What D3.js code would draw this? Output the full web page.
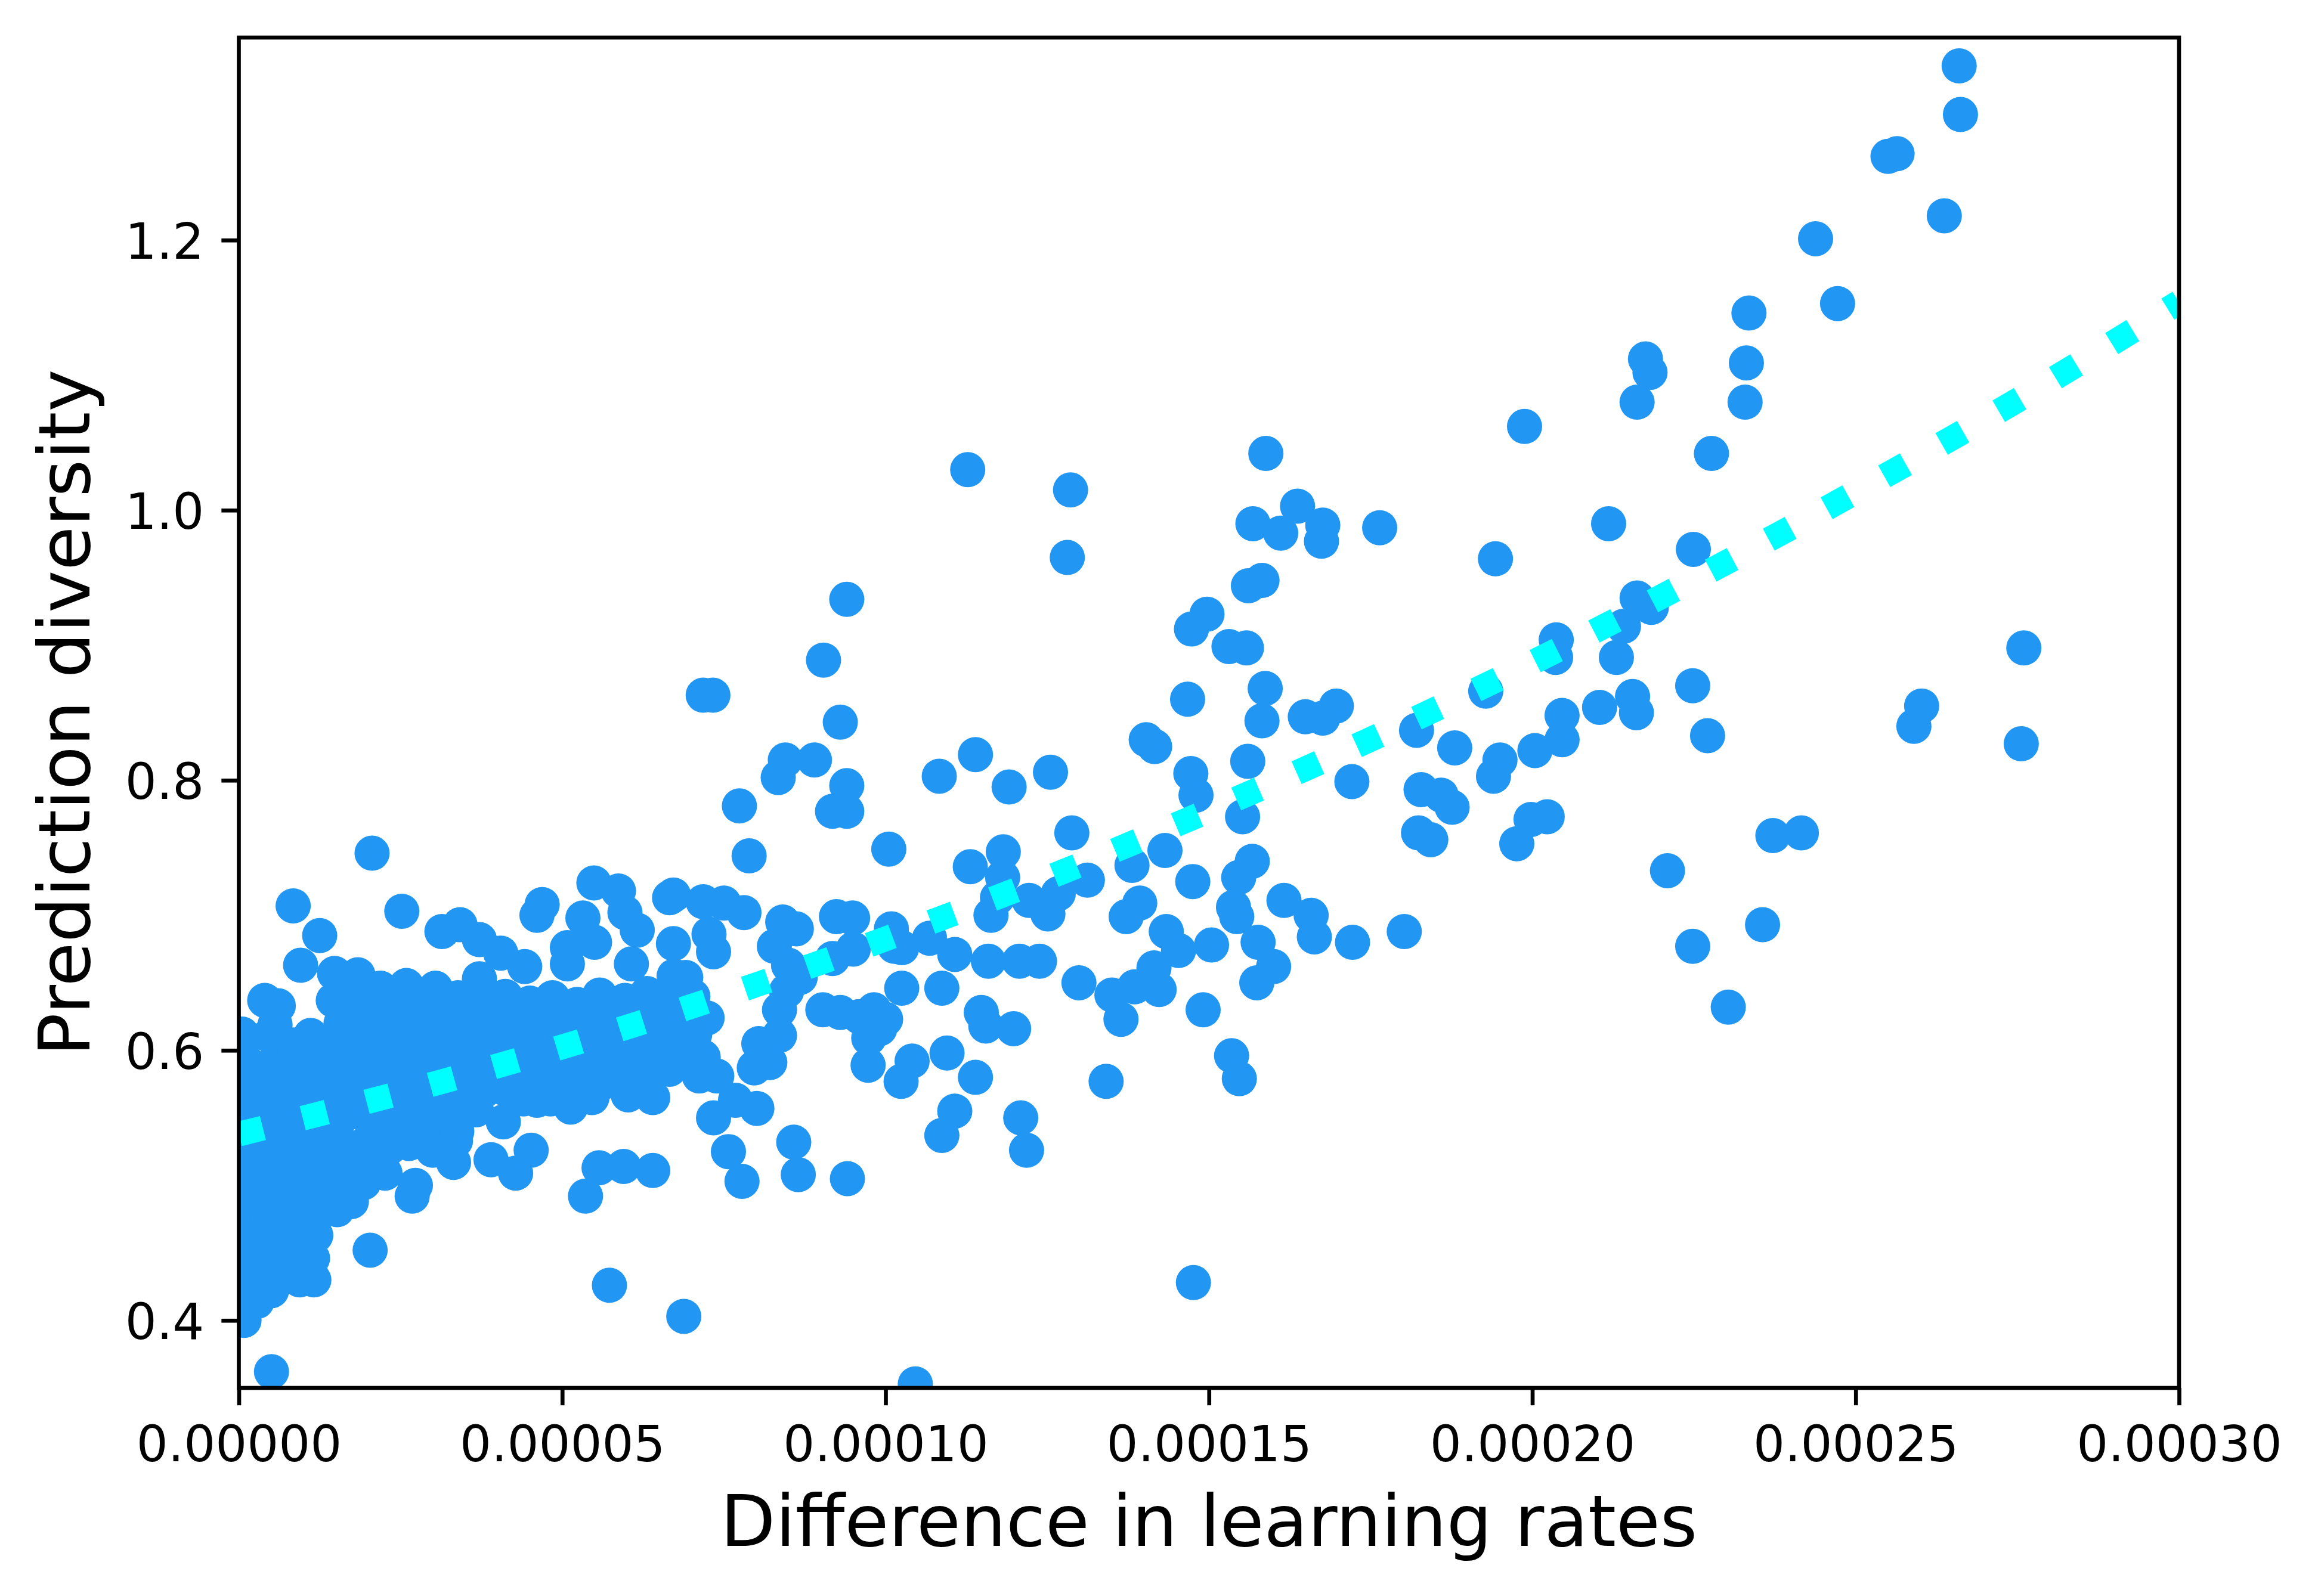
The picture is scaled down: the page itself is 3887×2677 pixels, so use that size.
<!DOCTYPE html>
<html>
<head>
  <script src="https://d3js.org/d3.v7.min.js"></script>
  <style>
    body {
      margin: 0;
      background-color: #fff;
      overflow: hidden;
    }
    text {
      font-family: "DejaVu Sans", sans-serif;
      fill: #000;
    }
  </style>
</head>
<body>
  <div id="chart"></div>
  <script>
    // Difference in learning rates (x) and prediction diversity (y)
    const lrDiff = [
      26.60e-5, 26.62e-5, 25.50e-5, 25.64e-5, 26.37e-5, 24.38e-5, 24.72e-5, 23.35e-5, 23.31e-5, 21.75e-5,
      21.82e-5, 21.62e-5, 23.29e-5, 22.77e-5, 19.88e-5, 15.88e-5, 11.27e-5, 12.86e-5, 16.37e-5, 16.76e-5,
      15.68e-5, 16.11e-5, 16.74e-5, 17.64e-5, 21.18e-5, 12.81e-5, 19.43e-5, 22.49e-5, 15.82e-5, 15.61e-5,
      9.40e-5, 21.62e-5, 14.97e-5, 14.73e-5, 21.84e-5, 15.31e-5, 15.58e-5, 20.37e-5, 20.36e-5, 21.30e-5,
      21.41e-5, 9.04e-5, 27.60e-5, 15.87e-5, 22.48e-5, 19.28e-5, 7.18e-5, 7.33e-5, 14.67e-5, 21.04e-5,
      21.55e-5, 21.61e-5, 16.97e-5, 16.49e-5, 16.76e-5, 20.46e-5, 15.82e-5, 26.02e-5, 25.90e-5, 9.30e-5,
      18.21e-5, 20.46e-5, 22.71e-5, 14.03e-5, 14.16e-5, 27.56e-5, 8.45e-5, 8.90e-5, 15.60e-5, 19.50e-5,
      10.83e-5, 12.55e-5, 8.34e-5, 19.40e-5, 20.04e-5, 11.39e-5, 14.72e-5, 14.80e-5, 18.80e-5, 9.40e-5,
      17.21e-5, 11.91e-5, 18.28e-5, 18.59e-5, 18.76e-5, 7.74e-5, 9.18e-5, 9.40e-5, 19.98e-5, 20.23e-5,
      15.52e-5, 12.88e-5, 19.76e-5, 18.24e-5, 18.43e-5, 23.72e-5, 24.16e-5, 15.67e-5, 7.89e-5, 2.06e-5,
      10.05e-5, 11.31e-5, 11.82e-5, 13.81e-5, 14.32e-5, 13.12e-5, 22.09e-5, 15.46e-5, 14.75e-5, 11.81e-5,
      11.73e-5, 11.63e-5, 12.22e-5, 12.51e-5, 12.67e-5, 13.93e-5, 13.72e-5, 14.34e-5, 16.16e-5, 15.38e-5,
      15.43e-5, 16.58e-5, 16.63e-5, 17.22e-5, 18.02e-5, 22.48e-5, 23.56e-5, 23.03e-5, 15.76e-5, 16.00e-5,
      15.74e-5, 15.04e-5, 14.53e-5, 14.15e-5, 14.23e-5, 13.85e-5, 13.50e-5, 13.64e-5, 14.91e-5, 15.35e-5,
      15.47e-5, 13.41e-5, 12.99e-5, 12.38e-5, 12.07e-5, 11.59e-5, 11.07e-5, 10.87e-5, 10.68e-5, 10.25e-5,
      10.09e-5, 10.14e-5, 10.25e-5, 11.48e-5, 11.55e-5, 11.98e-5, 10.95e-5, 11.39e-5, 10.41e-5, 10.24e-5,
      9.73e-5, 11.07e-5, 10.87e-5, 12.09e-5, 12.18e-5, 9.41e-5, 14.76e-5, 10.46e-5, 8.65e-5, 8.58e-5,
      7.78e-5, 7.57e-5, 7.34e-5, 7.68e-5, 8.01e-5, 7.18e-5, 7.39e-5, 7.12e-5, 7.97e-5, 8.21e-5,
      8.04e-5, 8.36e-5, 8.36e-5, 7.03e-5, 7.24e-5, 6.91e-5, 7.34e-5, 7.27e-5, 7.18e-5, 7.50e-5,
      7.81e-5, 8.41e-5, 8.62e-5, 8.28e-5, 8.50e-5, 8.68e-5, 8.47e-5, 9.24e-5, 9.49e-5, 9.18e-5,
      9.50e-5, 9.03e-5, 9.30e-5, 9.59e-5, 9.82e-5, 10.00e-5, 9.91e-5, 9.74e-5,
      0.84e-5, 2.52e-5, 1.25e-5, 0.955e-5, 5.49e-5, 5.87e-5, 4.69e-5, 4.61e-5, 5.32e-5, 5.97e-5,
      6.16e-5, 6.72e-5, 6.66e-5, 6.72e-5, 3.14e-5, 3.42e-5, 3.72e-5, 4.05e-5, 3.72e-5, 4.42e-5,
      5.08e-5, 5.08e-5, 5.50e-5, 6.07e-5, 6.73e-5, 0.40e-5, 0.61e-5, 0.56e-5, 1.11e-5, 0.05e-5,
      1.48e-5, 1.84e-5, 2.19e-5, 1.46e-5, 1.60e-5, 2.59e-5, 3.04e-5, 3.39e-5, 1.79e-5, 1.93e-5,
      0.66e-5, 6.40e-5, 6.77e-5, 6.40e-5, 6.02e-5, 5.46e-5, 5.13e-5, 4.82e-5, 4.61e-5, 4.40e-5,
      4.09e-5, 3.67e-5, 3.90e-5, 4.28e-5, 4.52e-5, 5.57e-5, 5.95e-5, 6.40e-5, 5.36e-5, 3.32e-5,
      2.73e-5, 2.68e-5, 2.26e-5, 1.74e-5, 0.505e-5, 5.73e-5, 6.88e-5, 2.03e-5, 1.16e-5, 0.94e-5,
      0.505e-5, 0.28e-5, 0.08e-5, 5.55e-5,
      // dense cluster near zero, hidden points estimated
      0.11e-5, 0.47e-5, 0.85e-5, 1.21e-5, 0.12e-5, 0.46e-5, 0.83e-5, 1.19e-5, 0.10e-5, 0.48e-5,
      0.86e-5, 1.22e-5, 0.13e-5, 0.45e-5, 0.82e-5, 1.18e-5, 0.09e-5, 0.49e-5, 0.84e-5, 1.23e-5,
      0.12e-5, 0.46e-5, 0.87e-5, 1.20e-5, 0.10e-5, 0.47e-5, 0.83e-5, 1.17e-5, 0.14e-5, 0.50e-5,
      0.85e-5, 1.21e-5, 0.08e-5, 0.44e-5, 0.81e-5, 1.19e-5, 0.11e-5, 0.47e-5, 0.86e-5, 1.14e-5,
      0.13e-5, 0.48e-5, 0.80e-5, 1.10e-5, 0.07e-5,
      1.56e-5, 1.94e-5, 1.58e-5, 1.92e-5, 1.55e-5, 1.95e-5, 1.59e-5, 1.91e-5, 1.56e-5, 1.94e-5,
      1.58e-5, 1.92e-5, 1.54e-5, 1.96e-5, 1.57e-5, 1.90e-5, 1.59e-5, 1.93e-5, 1.52e-5,
      2.29e-5, 2.67e-5, 3.02e-5, 3.41e-5, 2.31e-5, 2.65e-5, 3.05e-5, 3.38e-5, 2.28e-5, 2.68e-5,
      3.01e-5, 3.42e-5, 2.32e-5, 2.64e-5, 3.04e-5, 3.39e-5, 2.30e-5, 2.67e-5, 3.02e-5, 3.41e-5,
      2.27e-5, 2.69e-5, 3.06e-5, 3.37e-5, 2.33e-5, 2.63e-5, 3.00e-5, 3.35e-5,
      3.77e-5, 4.12e-5, 4.50e-5, 4.85e-5, 5.23e-5, 5.58e-5, 5.97e-5, 6.31e-5,
      3.75e-5, 4.14e-5, 4.48e-5, 4.87e-5, 5.21e-5, 5.60e-5, 5.95e-5, 6.33e-5,
      3.78e-5, 4.11e-5, 4.51e-5, 4.84e-5, 5.24e-5, 5.57e-5, 5.98e-5, 6.30e-5,
      3.74e-5, 4.15e-5, 4.47e-5, 4.88e-5, 5.20e-5, 5.61e-5, 5.94e-5, 6.34e-5,
      3.79e-5, 4.10e-5, 4.52e-5, 4.83e-5, 5.25e-5, 5.56e-5, 5.99e-5, 6.29e-5,
      6.69e-5, 6.68e-5, 6.70e-5, 7.05e-5, 7.02e-5, 6.66e-5
    ];

    const predDiversity = [
      1.329, 1.293, 1.262, 1.264, 1.218, 1.201, 1.153, 1.146, 1.109, 1.112,
      1.102, 1.080, 1.080, 1.042, 1.062, 1.042, 1.030, 1.015, 1.003, 0.989,
      0.990, 0.983, 0.977, 0.987, 0.990, 0.965, 0.964, 0.971, 0.948, 0.944,
      0.934, 0.935, 0.923, 0.912, 0.928, 0.899, 0.898, 0.904, 0.891, 0.891,
      0.914, 0.889, 0.898, 0.868, 0.870, 0.866, 0.863, 0.863, 0.860, 0.854,
      0.862, 0.850, 0.855, 0.847, 0.846, 0.848, 0.844, 0.855, 0.840, 0.843,
      0.837, 0.830, 0.833, 0.830, 0.825, 0.827, 0.815, 0.815, 0.814, 0.815,
      0.803, 0.806, 0.802, 0.803, 0.822, 0.819, 0.805, 0.789, 0.824, 0.796,
      0.799, 0.795, 0.793, 0.789, 0.780, 0.781, 0.777, 0.777, 0.771, 0.773,
      0.773, 0.761, 0.753, 0.761, 0.756, 0.759, 0.761, 0.740, 0.744, 0.746,
      0.749, 0.736, 0.747, 0.737, 0.748, 0.726, 0.733, 0.728, 0.725, 0.728,
      0.713, 0.700, 0.711, 0.701, 0.716, 0.709, 0.699, 0.688, 0.711, 0.706,
      0.699, 0.700, 0.684, 0.680, 0.688, 0.677, 0.693, 0.632, 0.680, 0.662,
      0.650, 0.678, 0.674, 0.661, 0.645, 0.647, 0.641, 0.623, 0.630, 0.596,
      0.579, 0.577, 0.650, 0.666, 0.666, 0.666, 0.671, 0.646, 0.683, 0.676,
      0.690, 0.677, 0.646, 0.628, 0.618, 0.616, 0.598, 0.580, 0.592, 0.577,
      0.589, 0.555, 0.537, 0.550, 0.526, 0.505, 0.428, 0.353, 0.508, 0.532,
      0.503, 0.525, 0.550, 0.563, 0.557, 0.595, 0.581, 0.581, 0.587, 0.591,
      0.605, 0.611, 0.630, 0.626, 0.624, 0.654, 0.673, 0.686, 0.710, 0.709,
      0.702, 0.695, 0.690, 0.677, 0.663, 0.654, 0.644, 0.699, 0.698, 0.668,
      0.675, 0.630, 0.628, 0.625, 0.630, 0.623, 0.616, 0.609,
      0.707, 0.703, 0.685, 0.663, 0.724, 0.718, 0.708, 0.700, 0.698, 0.702,
      0.689, 0.715, 0.713, 0.679, 0.688, 0.693, 0.682, 0.672, 0.653, 0.662,
      0.676, 0.664, 0.680, 0.664, 0.655, 0.637, 0.633, 0.619, 0.611, 0.612,
      0.657, 0.656, 0.646, 0.637, 0.642, 0.648, 0.646, 0.639, 0.611, 0.609,
      0.599, 0.604, 0.591, 0.565, 0.567, 0.565, 0.558, 0.564, 0.563, 0.564,
      0.547, 0.556, 0.519, 0.509, 0.526, 0.513, 0.514, 0.511, 0.492, 0.517,
      0.500, 0.492, 0.509, 0.488, 0.362, 0.426, 0.403, 0.452, 0.430, 0.430,
      0.422, 0.414, 0.400, 0.603,
      // dense cluster near zero, hidden points estimated
      0.608, 0.611, 0.604, 0.596, 0.591, 0.588, 0.592, 0.579, 0.574, 0.571,
      0.576, 0.563, 0.556, 0.553, 0.558, 0.548, 0.539, 0.542, 0.536, 0.531,
      0.521, 0.524, 0.519, 0.514, 0.504, 0.507, 0.501, 0.497, 0.486, 0.489,
      0.484, 0.479, 0.469, 0.472, 0.467, 0.463, 0.451, 0.454, 0.449, 0.446,
      0.434, 0.437, 0.441, 0.438, 0.417,
      0.636, 0.631, 0.620, 0.623, 0.602, 0.598, 0.585, 0.588, 0.569, 0.566,
      0.550, 0.553, 0.534, 0.531, 0.517, 0.519, 0.499, 0.502, 0.482,
      0.633, 0.630, 0.627, 0.624, 0.615, 0.618, 0.612, 0.609, 0.598, 0.601,
      0.596, 0.593, 0.580, 0.583, 0.578, 0.575, 0.563, 0.566, 0.561, 0.558,
      0.545, 0.548, 0.543, 0.540, 0.528, 0.531, 0.526, 0.533,
      0.636, 0.640, 0.635, 0.639, 0.634, 0.641, 0.637, 0.642,
      0.620, 0.622, 0.618, 0.623, 0.619, 0.624, 0.620, 0.625,
      0.602, 0.605, 0.601, 0.606, 0.602, 0.607, 0.603, 0.608,
      0.585, 0.588, 0.584, 0.589, 0.585, 0.590, 0.586, 0.591,
      0.570, 0.572, 0.568, 0.573, 0.569, 0.574, 0.571, 0.576,
      0.638, 0.621, 0.603, 0.612, 0.640, 0.586
    ];

    // Fitted trend (dotted cyan)
    const fitDiff = [0, 3.04e-5, 6.94e-5, 8.87e-5, 10.78e-5, 12.68e-5, 14.56e-5, 16.43e-5, 20.13e-5, 22.84e-5, 25.52e-5, 27.29e-5, 30e-5];
    const fitDiversity = [0.538, 0.5755, 0.6316, 0.663, 0.6964, 0.7311, 0.7685, 0.8072, 0.8903, 0.9573, 1.0272, 1.0755, 1.154];

    const xTicks = [0, 0.00005, 0.0001, 0.00015, 0.0002, 0.00025, 0.0003];
    const xTickLabels = ["0.00000", "0.00005", "0.00010", "0.00015", "0.00020", "0.00025", "0.00030"];
    const yTicks = [0.4, 0.6, 0.8, 1.0, 1.2];
    const yTickLabels = ["0.4", "0.6", "0.8", "1.0", "1.2"];

    // Layout (pixels)
    const W = 3887, H = 2677;
    const plot = { left: 400.5, right: 3654, top: 63, bottom: 2328 };
    const pt = 600 / 72;

    const svg = d3.select("#chart")
      .append("svg")
      .attr("width", W)
      .attr("height", H)
      .style("display", "block")
      .style("background", "#fff");

    const x = d3.scaleLinear().domain([0, 0.0003]).range([plot.left, plot.right]);
    const y = d3.scaleLinear().domain([0.35, 1.35]).range([plot.bottom, plot.top]);

    svg.append("clipPath")
      .attr("id", "plot-clip")
      .append("rect")
      .attr("x", plot.left)
      .attr("y", plot.top)
      .attr("width", plot.right - plot.left)
      .attr("height", plot.bottom - plot.top);

    const points = lrDiff.map((d, i) => ({ x: d, y: predDiversity[i] }));

    // Scatter
    svg.append("g")
      .attr("clip-path", "url(#plot-clip)")
      .selectAll("circle")
      .data(points)
      .join("circle")
      .attr("cx", d => x(d.x))
      .attr("cy", d => y(d.y))
      .attr("r", 29.5)
      .attr("fill", "#2196f3");

    // Trend line
    const fit = fitDiff.map((d, i) => ({ x: d, y: fitDiversity[i] }));
    const line = d3.line()
      .x(d => x(d.x))
      .y(d => y(d.y))
      .curve(d3.curveMonotoneX);

    svg.append("path")
      .datum(fit)
      .attr("clip-path", "url(#plot-clip)")
      .attr("d", line)
      .attr("fill", "none")
      .attr("stroke", "#00ffff")
      .attr("stroke-width", 5 * pt)
      .attr("stroke-linecap", "butt")
      .attr("stroke-dasharray", `${5 * pt} ${1.65 * 5 * pt}`);

    // Axes
    const tickLen = 3.5 * pt;
    const xAxis = d3.axisBottom(x)
      .tickValues(xTicks)
      .tickFormat((d, i) => xTickLabels[i])
      .tickSizeInner(tickLen)
      .tickSizeOuter(0);

    const gx = svg.append("g")
      .attr("transform", `translate(0, ${plot.bottom})`)
      .call(xAxis);
    gx.select(".domain").remove();
    gx.selectAll(".tick line").attr("stroke", "#000").attr("stroke-width", 0.8 * pt);
    gx.selectAll(".tick text")
      .attr("y", 123)
      .attr("dy", null)
      .style("font-family", "DejaVu Sans, sans-serif")
      .style("font-size", `${10 * pt}px`)
      .style("fill", "#000");

    const yAxis = d3.axisLeft(y)
      .tickValues(yTicks)
      .tickFormat((d, i) => yTickLabels[i])
      .tickSizeInner(tickLen)
      .tickSizeOuter(0);

    const gy = svg.append("g")
      .attr("transform", `translate(${plot.left}, 0)`)
      .call(yAxis);
    gy.select(".domain").remove();
    gy.selectAll(".tick line").attr("stroke", "#000").attr("stroke-width", 0.8 * pt);
    gy.selectAll(".tick text")
      .attr("x", -(tickLen * 2))
      .attr("y", 30.4)
      .attr("dy", null)
      .style("font-family", "DejaVu Sans, sans-serif")
      .style("font-size", `${10 * pt}px`)
      .style("fill", "#000");

    // Frame
    svg.append("rect")
      .attr("x", plot.left)
      .attr("y", plot.top)
      .attr("width", plot.right - plot.left)
      .attr("height", plot.bottom - plot.top)
      .attr("fill", "none")
      .attr("stroke", "#000")
      .attr("stroke-width", 0.8 * pt);

    // Axis labels
    svg.append("text")
      .attr("x", (plot.left + plot.right) / 2)
      .attr("y", 2593)
      .attr("text-anchor", "middle")
      .style("font-size", "120px")
      .text("Difference in learning rates");

    svg.append("text")
      .attr("transform", `translate(150, ${(plot.top + plot.bottom) / 2}) rotate(-90)`)
      .attr("text-anchor", "middle")
      .style("font-size", "120px")
      .text("Prediction diversity");
  </script>
</body>
</html>
